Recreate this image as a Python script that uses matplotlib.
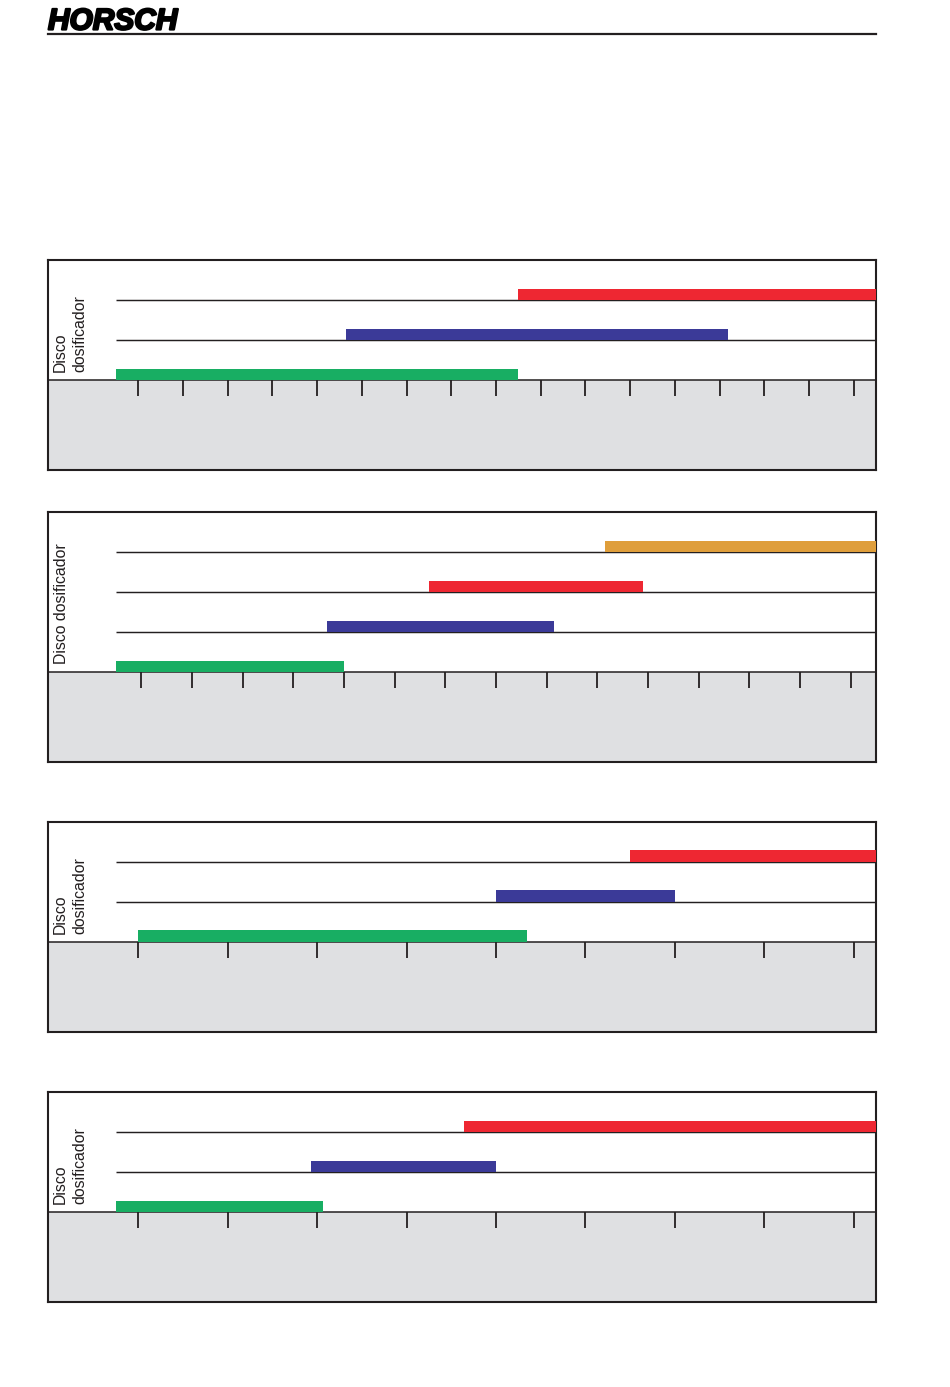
import matplotlib
matplotlib.use("Agg")
import matplotlib.pyplot as plt
import matplotlib.transforms as mtransforms
import matplotlib.patheffects as pe
import numpy as np

# ---------------- data ----------------
brand = "HORSCH"
axis_label_multi = "Disco\ndosificador"
axis_label_single = "Disco dosificador"

# number of ticks per panel and axis extent (tick units)
p1_ticks = 17
p1_range = (-0.5, 16.5)
p1_start = [-0.5, 4.64, 8.5]
p1_end = [8.5, 13.2, 16.5]

p2_ticks = 15
p2_range = (-0.5, 14.5)
p2_start = [-0.5, 3.67, 5.68, 9.15]
p2_end = [4.0, 8.15, 9.9, 14.5]

p3_ticks = 9
p3_range = (-0.25, 8.25)
p3_start = [0.0, 4.0, 5.5]
p3_end = [4.35, 6.0, 8.25]

p4_ticks = 9
p4_range = (-0.25, 8.25)
p4_start = [-0.25, 1.93, 3.64]
p4_end = [2.07, 4.0, 8.25]

# ---------------- styles ----------------
GREEN = "#18AE63"
BLUE = "#3B3A98"
RED = "#EE2732"
ORANGE = "#DF9E3B"
GRAY = "#DFE0E2"
DARK = "#231F20"

p1_colors = [GREEN, BLUE, RED]
p2_colors = [GREEN, BLUE, RED, ORANGE]
p3_colors = [GREEN, BLUE, RED]
p4_colors = [GREEN, BLUE, RED]

W, H = 950, 1387
fig = plt.figure(figsize=(W / 100, H / 100), dpi=100)
fig.patch.set_facecolor("white")
plt.rcParams["font.family"] = ["Liberation Sans", "DejaVu Sans"]

# header
fig.text(48 / W, 1 - 29.5 / H, brand, fontsize=21.5, fontweight="bold",
         fontstyle="italic", family=["Liberation Sans", "DejaVu Sans"],
         color="black", ha="left", va="baseline",
         path_effects=[pe.withStroke(linewidth=1.6, foreground="black")])
fig.add_artist(plt.Line2D([48 / W, 876 / W], [1 - 33.7 / H, 1 - 33.7 / H],
                          color=DARK, lw=1.6, transform=fig.transFigure))

BOX_L, BOX_R, PLOT_L = 48.3, 876.0, 116.0
ROW_PX = 40.0
GRAY_PX = 90.0
BAR_H = 0.29

panels = [
    (p1_ticks, p1_range, p1_start, p1_end, p1_colors, 380.3, axis_label_multi),
    (p2_ticks, p2_range, p2_start, p2_end, p2_colors, 672.3, axis_label_single),
    (p3_ticks, p3_range, p3_start, p3_end, p3_colors, 941.7, axis_label_multi),
    (p4_ticks, p4_range, p4_start, p4_end, p4_colors, 1212.3, axis_label_multi),
]

for nt, (x0, x1), starts, ends, colors, gray_top, label in panels:
    n = len(starts)
    top = gray_top - n * ROW_PX
    bottom = gray_top + GRAY_PX
    ax = fig.add_axes([BOX_L / W, 1 - bottom / H, (BOX_R - BOX_L) / W,
                       (bottom - top) / H])
    ppu = (BOX_R - PLOT_L) / (x1 - x0)
    xl = x0 - (PLOT_L - BOX_L) / ppu
    ax.set_xlim(xl, x1)
    ax.set_ylim(-GRAY_PX / ROW_PX, n)

    ax.axhspan(-GRAY_PX / ROW_PX, 0, color=GRAY, zorder=0, lw=0)
    ax.hlines(np.arange(1, n), x0, x1, color=DARK, lw=1.05, zorder=1)

    ax.barh(np.arange(n), np.array(ends) - np.array(starts), left=starts,
            height=BAR_H, align="edge", color=colors, zorder=3,
            clip_on=False)

    # spines / frame
    for s in ["top", "left", "right"]:
        ax.spines[s].set_color(DARK)
        ax.spines[s].set_linewidth(1.5)
    ax.spines["bottom"].set_position(("data", 0))
    ax.spines["bottom"].set_color(DARK)
    ax.spines["bottom"].set_linewidth(1.1)
    ax.plot([0, 1], [0, 0], transform=ax.transAxes, color=DARK, lw=1.5,
            clip_on=False, zorder=5)

    ax.set_xticks(np.arange(nt))
    ax.set_xticklabels([])
    ax.tick_params(axis="x", direction="out", length=11.5, width=1.3,
                   color=DARK)
    ax.set_yticks([])
    ax.set_facecolor("white")

    trans = mtransforms.blended_transform_factory(ax.transAxes, ax.transData)
    if "\n" in label:
        xc = (70 - BOX_L) / (BOX_R - BOX_L)
    else:
        xc = (62 - BOX_L) / (BOX_R - BOX_L)
    ax.text(xc, 8 / ROW_PX, label, transform=trans, rotation=90,
            ha="center", va="bottom", multialignment="left",
            fontsize=11.4, color=DARK, linespacing=1.4)

fig.savefig("out.png", dpi=100)
